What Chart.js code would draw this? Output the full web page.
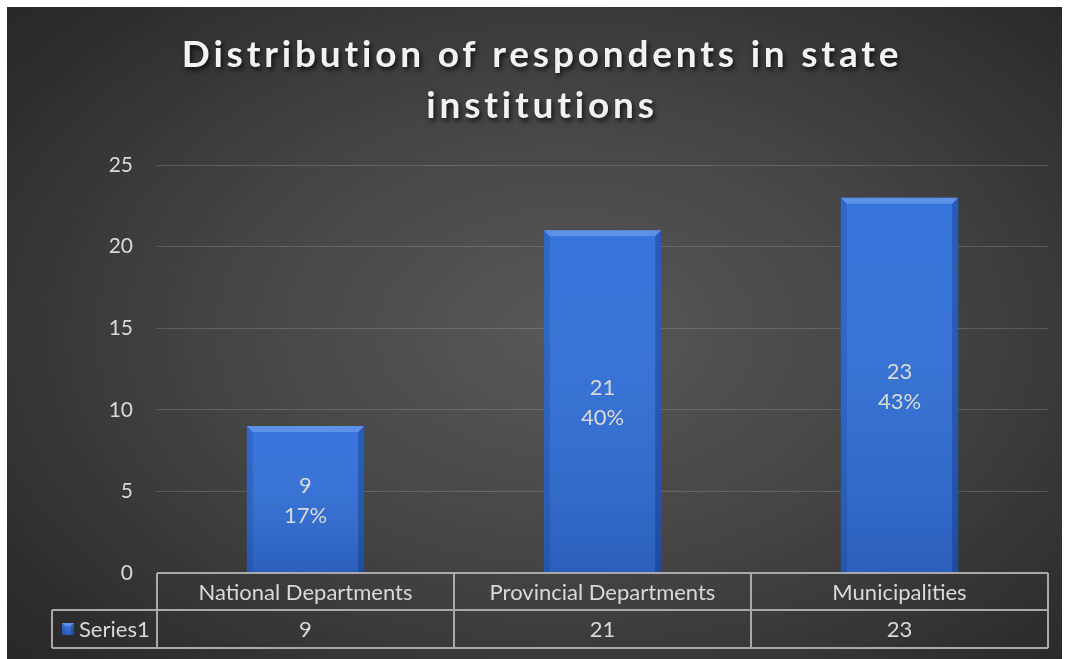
<!DOCTYPE html>
<html lang="en">
  <head>
    <meta charset="UTF-8" />
    <title>Distribution of respondents in state institutions</title>
    <script src="https://cdn.jsdelivr.net/npm/chart.js"></script>
    <style>
      html,
      body {
        margin: 0;
        padding: 0;
        background: #fff;
      }
      .frame {
        position: absolute;
        left: 7px;
        top: 7px;
        width: 1055px;
        height: 652px;
        background: radial-gradient(
          ellipse 75% 80% at 53% 50%,
          #585858 0%,
          #444 45%,
          #2c2c2c 85%,
          #262626 100%
        );
      }
      canvas {
        display: block;
      }
    </style>
  </head>
  <body>
    <div class="frame">
      <canvas id="respondentsChart" width="1055" height="652"></canvas>
    </div>

    <script>
      const titleLines = ["Distribution of respondents in state", "institutions"];
      const categories = ["National Departments", "Provincial Departments", "Municipalities"];
      const seriesName = "Series1";
      const series1 = [9, 21, 23];
      const yMax = 25;
      const yStep = 5;

      const total = series1.reduce((a, b) => a + b, 0);
      const textColor = "#d9d9d9";
      const labelFont = "22px Lato, 'Open Sans', sans-serif";

      // bevelled look on top of each flat bar
      function bevelRect(ctx, x0, y0, x1, y1, b) {
        const g = ctx.createLinearGradient(0, y0, 0, y1);
        g.addColorStop(0, "rgba(255,255,255,0.03)");
        g.addColorStop(1, "rgba(0,0,0,0.14)");
        ctx.fillStyle = g;
        ctx.fillRect(x0, y0, x1 - x0, y1 - y0);

        // top edge
        ctx.fillStyle = "rgba(150,190,255,0.4)";
        ctx.beginPath();
        ctx.moveTo(x0, y0);
        ctx.lineTo(x1, y0);
        ctx.lineTo(x1 - b, y0 + b);
        ctx.lineTo(x0 + b, y0 + b);
        ctx.closePath();
        ctx.fill();
        // left edge
        ctx.fillStyle = "rgba(0,20,80,0.14)";
        ctx.beginPath();
        ctx.moveTo(x0, y0);
        ctx.lineTo(x0 + b, y0 + b);
        ctx.lineTo(x0 + b, y1);
        ctx.lineTo(x0, y1);
        ctx.closePath();
        ctx.fill();
        // right edge
        ctx.fillStyle = "rgba(0,10,60,0.24)";
        ctx.beginPath();
        ctx.moveTo(x1, y0);
        ctx.lineTo(x1 - b, y0 + b);
        ctx.lineTo(x1 - b, y1);
        ctx.lineTo(x1, y1);
        ctx.closePath();
        ctx.fill();
      }

      const bevelPlugin = {
        id: "bevel",
        afterDatasetsDraw(chart) {
          const ctx = chart.ctx;
          ctx.save();
          chart.getDatasetMeta(0).data.forEach((bar) => {
            const x0 = bar.x - bar.width / 2;
            const x1 = bar.x + bar.width / 2;
            bevelRect(ctx, x0, bar.y, x1, bar.base, 6);
          });
          ctx.restore();
        },
      };

      // value and share of total, stacked in the middle of each bar
      const barLabelPlugin = {
        id: "barLabels",
        afterDatasetsDraw(chart) {
          const ctx = chart.ctx;
          ctx.save();
          ctx.font = labelFont;
          ctx.fillStyle = textColor;
          ctx.textAlign = "center";
          ctx.textBaseline = "middle";
          chart.getDatasetMeta(0).data.forEach((bar, i) => {
            const v = series1[i];
            const pct = Math.round((v / total) * 100) + "%";
            const mid = (bar.y + bar.base) / 2 + 2;
            ctx.fillText(String(v), bar.x, mid - 15);
            ctx.fillText(pct, bar.x, mid + 15);
          });
          ctx.restore();
        },
      };

      const titlePlugin = {
        id: "shadowTitle",
        afterDraw(chart) {
          const ctx = chart.ctx;
          ctx.save();
          ctx.font = "bold 37px Lato, 'Open Sans', sans-serif";
          ctx.letterSpacing = "3.8px";
          ctx.textAlign = "center";
          ctx.textBaseline = "middle";
          ctx.fillStyle = "#f2f2f2";
          ctx.shadowColor = "rgba(0,0,0,0.75)";
          ctx.shadowBlur = 5;
          ctx.shadowOffsetX = 2;
          ctx.shadowOffsetY = 3;
          titleLines.forEach((line, i) => {
            ctx.fillText(line, 535, 48 + i * 51);
          });
          ctx.restore();
        },
      };

      // data table under the plot, columns follow the category scale
      const dataTablePlugin = {
        id: "dataTable",
        afterDraw(chart) {
          const ctx = chart.ctx;
          const area = chart.chartArea;
          const xs = chart.scales.x;
          const colW = (area.right - area.left) / categories.length;
          const top = area.bottom;
          const mid = top + 37;
          const bottom = mid + 38;
          const legendLeft = 45;

          ctx.save();
          ctx.strokeStyle = "#a9a9a9";
          ctx.lineWidth = 2;
          ctx.beginPath();
          ctx.moveTo(area.left, top);
          ctx.lineTo(area.right, top);
          ctx.moveTo(legendLeft, mid);
          ctx.lineTo(area.right, mid);
          ctx.moveTo(legendLeft, bottom);
          ctx.lineTo(area.right, bottom);
          ctx.moveTo(legendLeft, mid);
          ctx.lineTo(legendLeft, bottom);
          for (let i = 0; i <= categories.length; i++) {
            const x = area.left + i * colW;
            ctx.moveTo(x, top);
            ctx.lineTo(x, bottom);
          }
          ctx.stroke();

          ctx.font = labelFont;
          ctx.fillStyle = textColor;
          ctx.textAlign = "center";
          ctx.textBaseline = "middle";
          categories.forEach((c, i) => {
            const cx = xs.getPixelForValue(i);
            ctx.fillText(c, cx, (top + mid) / 2 + 1);
            ctx.fillText(String(series1[i]), cx, (mid + bottom) / 2 + 1);
          });

          // series key
          const ky = (mid + bottom) / 2;
          ctx.fillStyle = "#2f6bd4";
          ctx.fillRect(55, ky - 6, 12, 12);
          bevelRect(ctx, 55, ky - 6, 67, ky + 6, 3);
          ctx.fillStyle = textColor;
          ctx.textAlign = "left";
          ctx.fillText(seriesName, 72, ky + 1);
          ctx.restore();
        },
      };

      const ctx = document.getElementById("respondentsChart").getContext("2d");
      new Chart(ctx, {
        type: "bar",
        data: {
          labels: categories,
          datasets: [
            {
              label: seriesName,
              data: series1,
              backgroundColor: "#3170da",
              borderWidth: 0,
              categoryPercentage: 0.79,
              barPercentage: 0.5,
            },
          ],
        },
        options: {
          responsive: false,
          animation: false,
          layout: {
            padding: { top: 158, right: 14, bottom: 86, left: 0 },
          },
          scales: {
            x: {
              display: false,
            },
            y: {
              min: 0,
              max: yMax,
              ticks: {
                stepSize: yStep,
                color: textColor,
                font: { family: "Lato, 'Open Sans', sans-serif", size: 21 },
                padding: 24,
              },
              grid: {
                color: "rgba(255,255,255,0.16)",
                drawTicks: false,
              },
              border: { display: false },
              afterFit(scale) {
                scale.width = 150;
              },
            },
          },
          plugins: {
            legend: { display: false },
            tooltip: { enabled: false },
          },
        },
        plugins: [bevelPlugin, barLabelPlugin, titlePlugin, dataTablePlugin],
      });
    </script>
  </body>
</html>
